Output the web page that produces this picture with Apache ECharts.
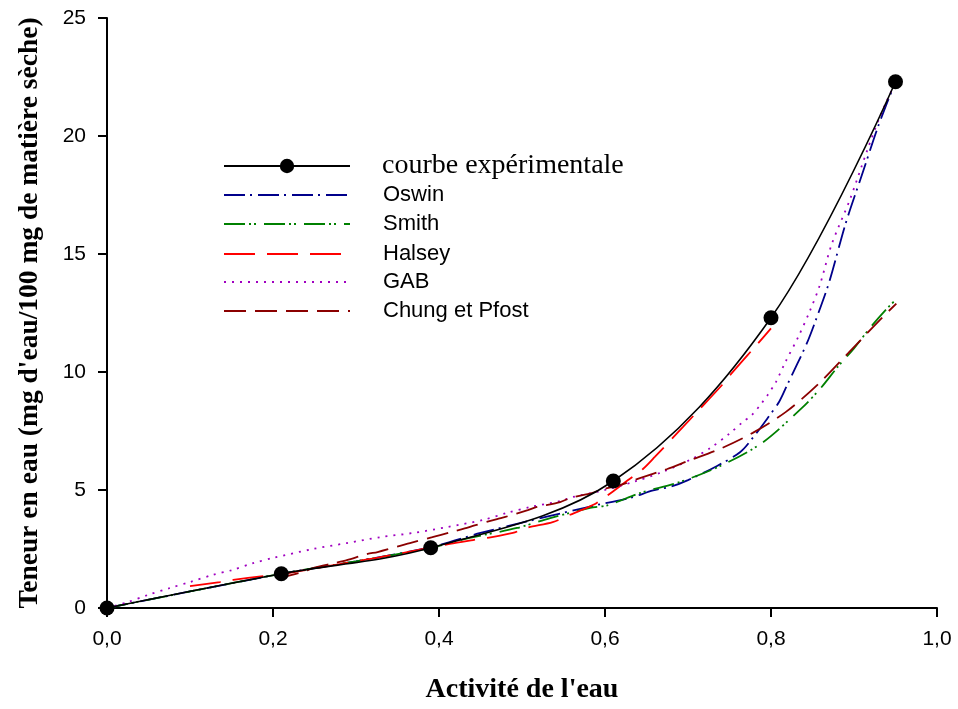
<!DOCTYPE html>
<html>
<head>
<meta charset="utf-8">
<script src="https://cdn.jsdelivr.net/npm/echarts@6/dist/echarts.min.js"></script>
<style>html,body{margin:0;padding:0;background:#fff;}#c{width:958px;height:709px;}</style>
</head>
<body>
<div id="c"></div>
<script>
// ---- Data ----
const seriesNames = ['courbe expérimentale', 'Oswin', 'Smith', 'Halsey', 'GAB', 'Chung et Pfost'];

const expX = [0, 0.21, 0.39, 0.61, 0.80, 0.95];
const expY = [0, 1.45, 2.55, 5.38, 12.3, 22.3];

const oswinX = [0, 0.1, 0.21, 0.3, 0.39, 0.45, 0.51, 0.555, 0.596, 0.63, 0.658, 0.68, 0.7, 0.735, 0.763, 0.78, 0.796, 0.81, 0.82, 0.843, 0.855, 0.87, 0.89, 0.91, 0.93, 0.95];
const oswinY = [0, 0.7, 1.45, 1.98, 2.58, 3.18, 3.7, 4.08, 4.41, 4.66, 4.98, 5.15, 5.42, 6.02, 6.61, 7.3, 8.05, 8.75, 9.49, 11.2, 12.3, 13.8, 16.3, 18.4, 20.5, 22.3];

const smithX = [0, 0.1, 0.21, 0.3, 0.39, 0.437, 0.494, 0.534, 0.582, 0.604, 0.642, 0.69, 0.739, 0.789, 0.837, 0.859, 0.88, 0.9, 0.92, 0.94, 0.95];
const smithY = [0, 0.7, 1.45, 1.98, 2.55, 2.97, 3.39, 3.81, 4.24, 4.36, 4.87, 5.34, 6.02, 6.99, 8.47, 9.28, 10.2, 11.0, 11.9, 12.7, 13.05];

const halseyX = [0.1, 0.136, 0.152, 0.188, 0.208, 0.233, 0.317, 0.341, 0.413, 0.441, 0.458, 0.489, 0.506, 0.537, 0.558, 0.575, 0.59, 0.61, 0.627, 0.646, 0.66, 0.694, 0.708, 0.741, 0.753, 0.784, 0.80];
const halseyY = [0.93, 1.1, 1.19, 1.35, 1.42, 1.57, 2.08, 2.23, 2.72, 2.88, 2.97, 3.18, 3.4, 3.64, 3.95, 4.2, 4.45, 4.95, 5.4, 5.9, 6.4, 7.67, 8.2, 9.45, 9.96, 11.2, 11.85];

const gabX = [0, 0.025, 0.049, 0.076, 0.1, 0.127, 0.151, 0.176, 0.2, 0.248, 0.289, 0.329, 0.369, 0.41, 0.453, 0.482, 0.51, 0.546, 0.561, 0.6, 0.635, 0.669, 0.702, 0.727, 0.751, 0.766, 0.777, 0.789, 0.796, 0.806, 0.817, 0.833, 0.847, 0.859, 0.873, 0.895, 0.916, 0.931, 0.95];
const gabY = [0, 0.25, 0.55, 0.85, 1.1, 1.4, 1.61, 1.9, 2.12, 2.5, 2.75, 3.0, 3.18, 3.43, 3.73, 4.03, 4.28, 4.53, 4.7, 5.0, 5.35, 5.76, 6.27, 6.78, 7.42, 7.88, 8.18, 8.69, 9.03, 9.58, 10.4, 11.5, 12.6, 13.7, 15.4, 17.3, 19.4, 20.8, 22.3];

const chungX = [0.205, 0.236, 0.248, 0.275, 0.289, 0.314, 0.326, 0.353, 0.365, 0.392, 0.413, 0.431, 0.443, 0.47, 0.48, 0.507, 0.518, 0.546, 0.558, 0.584, 0.594, 0.618, 0.642, 0.675, 0.70, 0.741, 0.778, 0.818, 0.857, 0.893, 0.931, 0.951];
const chungY = [1.25, 1.53, 1.69, 1.91, 2.03, 2.29, 2.37, 2.63, 2.75, 3.0, 3.2, 3.37, 3.5, 3.77, 3.86, 4.15, 4.28, 4.49, 4.66, 4.87, 5.0, 5.21, 5.5, 5.89, 6.23, 6.78, 7.42, 8.31, 9.49, 10.8, 12.2, 12.9];

const xTickValues = [0, 0.2, 0.4, 0.6, 0.8, 1.0];
const yTickValues = [0, 5, 10, 15, 20, 25];

const xTitle = "Activité de l'eau";
const yTitle = "Teneur en eau (mg d'eau/100 mg de matière sèche)";

// ---- Build chart ----
const zip = (xs, ys) => xs.map((x, i) => [x, ys[i]]);

const modelStyles = {
  'Oswin':          { color: '#00008b', dash: [21, 5, 2, 6] },
  'Smith':          { color: '#008000', dash: [21, 4, 2, 3, 2, 8] },
  'Halsey':         { color: '#ff0000', dash: [31, 12] },
  'GAB':            { color: '#a000c0', dash: [2, 6] },
  'Chung et Pfost': { color: '#8b0000', dash: [22, 9] }
};
const modelData = {
  'Oswin': zip(oswinX, oswinY),
  'Smith': zip(smithX, smithY),
  'Halsey': zip(halseyX, halseyY),
  'GAB': zip(gabX, gabY),
  'Chung et Pfost': zip(chungX, chungY)
};

const series = [];
seriesNames.slice(1).forEach(n => {
  series.push({
    name: n, type: 'line', data: modelData[n], smooth: 0.3,
    symbol: 'none', clip: false,
    lineStyle: { color: modelStyles[n].color, width: 1.8, type: modelStyles[n].dash },
    itemStyle: { color: modelStyles[n].color },
    z: 2
  });
});
series.push({
  name: seriesNames[0], type: 'line', data: zip(expX, expY), smooth: 0.35,
  symbol: 'circle', symbolSize: 15, clip: false,
  lineStyle: { color: '#000', width: 1.6, type: 'solid' },
  itemStyle: { color: '#000' },
  z: 3
});

const legendCenters = [161, 193, 222, 252, 280, 309];
const legends = seriesNames.map((n, i) => ({
  data: [{
    name: n,
    textStyle: i === 0
      ? { fontFamily: 'Liberation Serif', fontSize: 28, color: '#000', padding: [0, 0, 0, 27] }
      : { fontFamily: 'Liberation Sans', fontSize: 22, color: '#000', padding: [0, 0, 0, 28] },
    itemStyle: i === 0 ? undefined : { opacity: 0 }
  }],
  left: 223, top: legendCenters[i] - 9,
  itemWidth: 126, itemHeight: 18, padding: 0,
  selectedMode: false, orient: 'vertical'
}));

const chart = echarts.init(document.getElementById('c'), null, { renderer: 'canvas' });
chart.setOption({
  animation: false,
  backgroundColor: '#fff',
  grid: { left: 107, right: 21, top: 18, bottom: 101, containLabel: false },
  legend: legends,
  xAxis: {
    type: 'value', min: 0, max: 1, interval: 0.2,
    name: xTitle, nameLocation: 'middle', nameGap: 68,
    nameTextStyle: { fontFamily: 'Liberation Serif', fontWeight: 'bold', fontSize: 28, color: '#000' },
    axisLine: { show: true, lineStyle: { color: '#000', width: 2 } },
    axisTick: { show: true, length: 9, lineStyle: { color: '#000', width: 2 } },
    axisLabel: { fontFamily: 'Liberation Sans', fontSize: 21, color: '#000', margin: 21,
      formatter: v => xTickValues.some(t => Math.abs(t - v) < 1e-9) ? v.toFixed(1).replace('.', ',') : '' },
    splitLine: { show: false }
  },
  yAxis: {
    type: 'value', min: 0, max: 25, interval: 5,
    name: yTitle, nameLocation: 'middle', nameGap: 63,
    nameTextStyle: { fontFamily: 'Liberation Serif', fontWeight: 'bold', fontSize: 27.5, color: '#000' },
    axisLine: { show: true, lineStyle: { color: '#000', width: 2 } },
    axisTick: { show: true, length: 9, lineStyle: { color: '#000', width: 2 } },
    axisLabel: { fontFamily: 'Liberation Sans', fontSize: 21, color: '#000', margin: 21,
      formatter: v => yTickValues.includes(v) ? String(v) : '' },
    splitLine: { show: false }
  },
  series: series
});
</script>
</body>
</html>
